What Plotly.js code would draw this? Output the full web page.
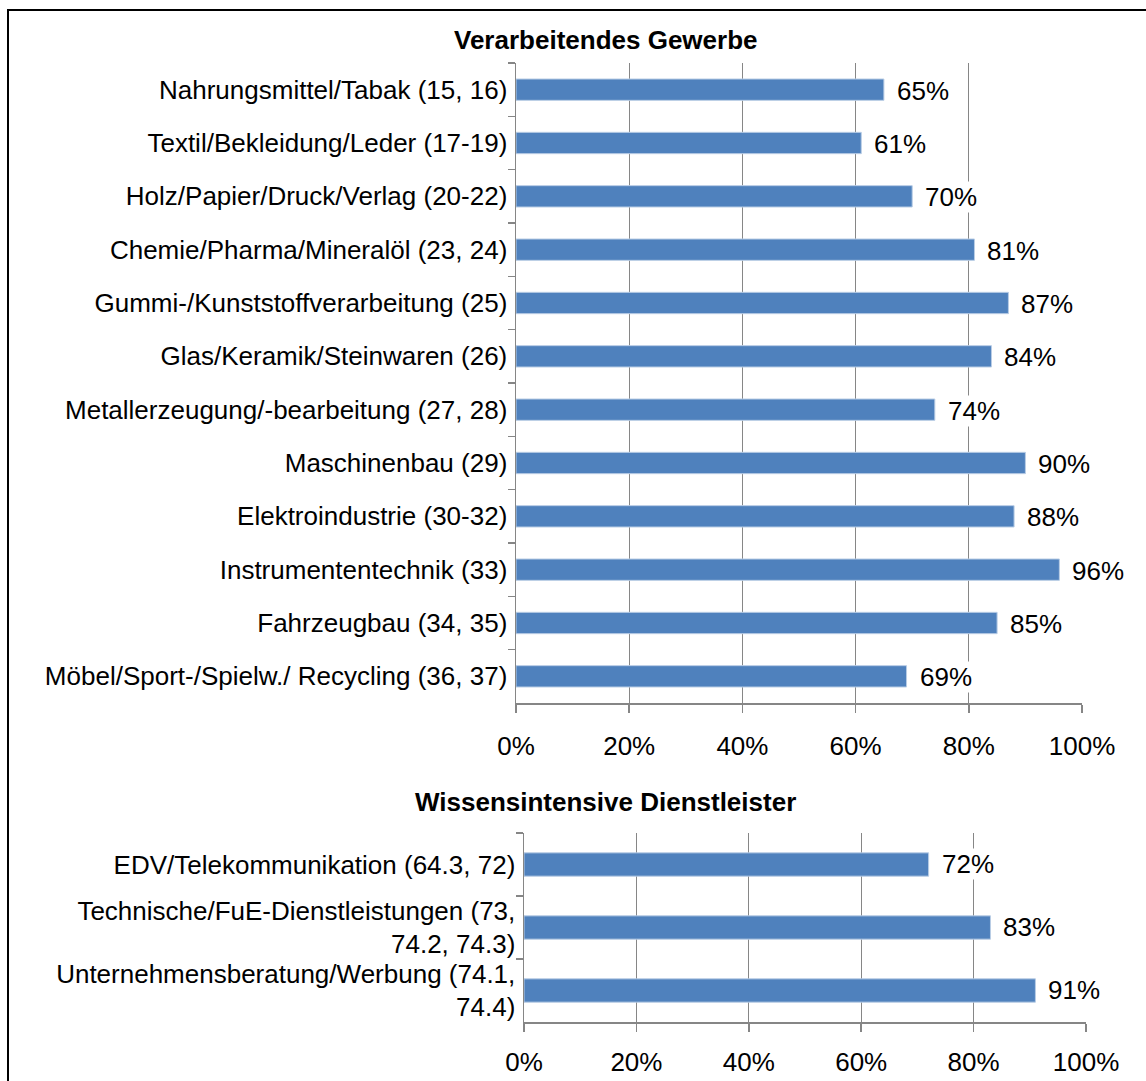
<!DOCTYPE html>
<html>
<head>
<meta charset="utf-8">
<script src="https://cdn.plot.ly/plotly-3.0.1.min.js"></script>
<style>
html,body{margin:0;padding:0;background:#fff;}
#chart{width:1146px;height:1081px;}
</style>
</head>
<body>
<div id="chart"></div>
<script>
// ---- Data ----
const titleTop = "Verarbeitendes Gewerbe";
const titleBottom = "Wissensintensive Dienstleister";

const categoriesTop = [
  "Nahrungsmittel/Tabak (15, 16)",
  "Textil/Bekleidung/Leder (17-19)",
  "Holz/Papier/Druck/Verlag (20-22)",
  "Chemie/Pharma/Mineralöl (23, 24)",
  "Gummi-/Kunststoffverarbeitung (25)",
  "Glas/Keramik/Steinwaren (26)",
  "Metallerzeugung/-bearbeitung (27, 28)",
  "Maschinenbau (29)",
  "Elektroindustrie (30-32)",
  "Instrumententechnik (33)",
  "Fahrzeugbau (34, 35)",
  "Möbel/Sport-/Spielw./ Recycling (36, 37)"
];
const valuesTop = [0.65, 0.61, 0.70, 0.81, 0.87, 0.84, 0.74, 0.90, 0.88, 0.96, 0.85, 0.69];

const categoriesBottom = [
  "EDV/Telekommunikation (64.3, 72)",
  "Technische/FuE-Dienstleistungen (73,<br>74.2, 74.3)",
  "Unternehmensberatung/Werbung (74.1,<br>74.4)"
];
const valuesBottom = [0.72, 0.83, 0.91];

const xTickVals = [0, 0.2, 0.4, 0.6, 0.8, 1.0];
const xTickText = ["0%", "20%", "40%", "60%", "80%", "100%"];

// ---- Styles ----
const FONT = "Liberation Sans, Arial, Helvetica, sans-serif";
const FS = 26;
const BAR = "#4F81BD";
const GRID = "#868686";

const traces = [
  {
    type: "bar", orientation: "h",
    x: valuesTop, y: categoriesTop,
    xaxis: "x", yaxis: "y",
    width: 0.4,
    marker: {color: BAR, line: {color: "#b9cde5", width: 1}},
    hoverinfo: "x+y", showlegend: false
  },
  {
    type: "bar", orientation: "h",
    x: valuesBottom, y: categoriesBottom,
    xaxis: "x2", yaxis: "y2",
    width: 0.37,
    marker: {color: BAR, line: {color: "#b9cde5", width: 1}},
    hoverinfo: "x+y", showlegend: false
  }
];

function pctLabel(v){ return Math.round(v*100) + "%"; }

const annotations = [];
valuesTop.forEach((v, i) => annotations.push({
  x: v, y: categoriesTop[i], xref: "x", yref: "y",
  text: pctLabel(v), showarrow: false, xanchor: "left", yanchor: "middle",
  xshift: 12, yshift: -1, bgcolor: "#ffffff", borderpad: 0,
  font: {family: FONT, size: FS, color: "#000"}
}));
valuesBottom.forEach((v, i) => annotations.push({
  x: v, y: categoriesBottom[i], xref: "x2", yref: "y2",
  text: pctLabel(v), showarrow: false, xanchor: "left", yanchor: "middle",
  xshift: 12, yshift: 1, bgcolor: "#ffffff", borderpad: 0,
  font: {family: FONT, size: FS, color: "#000"}
}));
annotations.push({
  text: "<b>" + titleTop + "</b>", xref: "paper", yref: "paper",
  x: 606/1146, y: 1 - 40/1081, xanchor: "center", yanchor: "middle",
  showarrow: false, font: {family: FONT, size: FS, color: "#000"}
});
annotations.push({
  text: "<b>" + titleBottom + "</b>", xref: "paper", yref: "paper",
  x: 606/1146, y: 1 - 802/1081, xanchor: "center", yanchor: "middle",
  showarrow: false, font: {family: FONT, size: FS, color: "#000"}
});

function xAxis(domain, anchor, standoff){
  return {
    domain: domain, anchor: anchor, range: [0, 1],
    tickvals: xTickVals, ticktext: xTickText,
    showgrid: true, gridcolor: GRID, gridwidth: 1,
    showline: true, linecolor: GRID, linewidth: 1.5,
    ticks: "outside", ticklen: 8, tickcolor: GRID, tickwidth: 1.5,
    ticklabelstandoff: standoff,
    zeroline: false, fixedrange: true,
    tickfont: {family: FONT, size: FS, color: "#000"}
  };
}
function yAxis(domain, anchor){
  return {
    domain: domain, anchor: anchor, type: "category",
    autorange: "reversed",
    showgrid: false, showline: true, linecolor: GRID, linewidth: 1.5,
    ticks: "outside", ticklen: 7, tickcolor: GRID, tickwidth: 1.5,
    tickson: "boundaries", ticklabelstandoff: 2,
    fixedrange: true,
    tickfont: {family: FONT, size: FS, color: "#000"}
  };
}

const layout = {
  width: 1146, height: 1081,
  margin: {l: 0, r: 0, t: 0, b: 0},
  paper_bgcolor: "#fff", plot_bgcolor: "#fff",
  font: {family: FONT, size: FS, color: "#000"},
  xaxis: xAxis([516/1146, 1082/1146], "y", 11),
  yaxis: yAxis([1 - 703/1081, 1 - 63/1081], "x"),
  xaxis2: xAxis([524/1146, 1086/1146], "y2", 8),
  yaxis2: yAxis([1 - 1022/1081, 1 - 833/1081], "x2"),
  annotations: annotations,
  shapes: [{
    type: "rect", xref: "paper", yref: "paper",
    x0: 8/1146, x1: 1.2, y0: -0.2, y1: 1 - 10/1081,
    line: {color: "#000", width: 2}, fillcolor: "rgba(0,0,0,0)", layer: "above"
  }],
  showlegend: false
};

Plotly.newPlot("chart", traces, layout, {staticPlot: true, displayModeBar: false});
</script>
</body>
</html>
